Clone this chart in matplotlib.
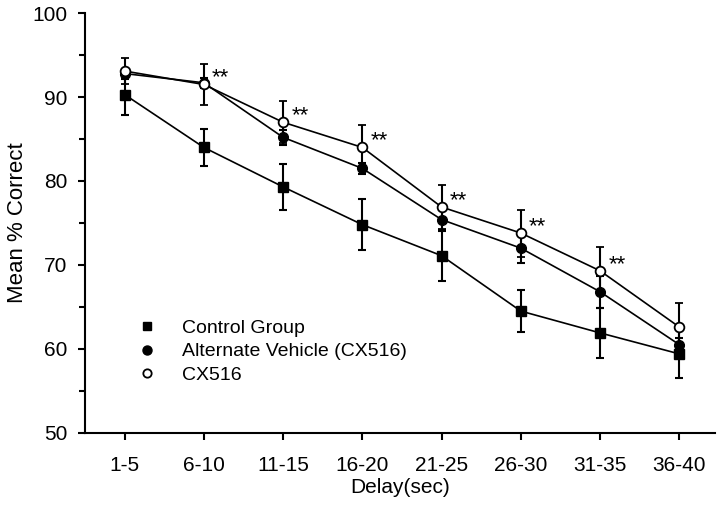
import numpy as np
import matplotlib
matplotlib.use('Agg')
from matplotlib import pyplot as plt
from matplotlib.ticker import MultipleLocator
from matplotlib.lines import Line2D

plt.rcParams['font.family'] = ['Liberation Sans', 'DejaVu Sans']

delays = ['1-5', '6-10', '11-15', '16-20', '21-25', '26-30', '31-35', '36-40']
control = [90.3, 84.0, 79.3, 74.8, 71.1, 64.5, 61.9, 59.4]
control_err = [2.4, 2.2, 2.75, 3.0, 3.0, 2.55, 2.95, 2.9]
vehicle = [92.8, 91.7, 85.2, 81.5, 75.4, 72.0, 66.8, 60.5]
vehicle_err = [0.6, 0.6, 0.9, 0.7, 1.2, 1.8, 1.9, 0.8]
cx516 = [93.1, 91.5, 87.0, 84.0, 76.9, 73.8, 69.3, 62.6]
cx516_err = [1.6, 2.4, 2.5, 2.7, 2.6, 2.8, 2.8, 2.9]
starred = [1, 2, 3, 4, 5, 6]

x = np.arange(1, len(delays) + 1)

fig = plt.figure(figsize=(7.2, 5.05), dpi=100)
ax = fig.add_axes([0.118, 0.143, 0.875, 0.831])

common = dict(color='black', lw=1.2, elinewidth=1.5, capsize=3, capthick=1.5, ms=7)
ax.errorbar(x, control, yerr=control_err, fmt='-s', mfc='black', label='Control Group', **common)
ax.errorbar(x, vehicle, yerr=vehicle_err, fmt='-o', mfc='black', label='Alternate Vehicle (CX516)', **common)
ax.errorbar(x, cx516, yerr=cx516_err, fmt='-o', mfc='white', mew=1.3, label='CX516', **common)

for i in starred:
    ax.annotate('**', (x[i], cx516[i]), xytext=(6, -3), textcoords='offset points',
                ha='left', va='bottom', fontsize=16)

ax.set_xlim(0.5, 8.45)
ax.set_ylim(50, 100)
ax.set_xticks(x)
ax.set_xticklabels(delays)
ax.yaxis.set_major_locator(MultipleLocator(10))
ax.yaxis.set_minor_locator(MultipleLocator(5))
ax.tick_params(axis='both', which='major', labelsize=15, width=1.5, length=5, direction='out')
ax.tick_params(axis='x', which='major', pad=12)
ax.tick_params(axis='y', which='major', pad=7.5)
ax.tick_params(axis='y', which='minor', width=1.5, length=4, direction='out')
ax.spines['top'].set_visible(False)
ax.spines['right'].set_visible(False)
ax.spines['left'].set_linewidth(1.5)
ax.spines['bottom'].set_linewidth(1.5)
ax.set_xlabel('Delay(sec)', fontsize=15, labelpad=2)
ax.set_ylabel('Mean % Correct', fontsize=16, labelpad=3)

labels = ['Control Group', 'Alternate Vehicle (CX516)', 'CX516']
hl = [Line2D([], [], ls='none', marker='s', color='black', ms=5.5),
      Line2D([], [], ls='none', marker='o', color='black', ms=6.5),
      Line2D([], [], ls='none', marker='o', color='black', mfc='white', mew=1.3, ms=6)]
ax.legend(hl, labels, loc='upper left', bbox_to_anchor=(0.056, 0.312), frameon=False,
          fontsize=14, handlelength=1, handletextpad=1.3, labelspacing=0.3)

fig.savefig('out.png', dpi=100)
